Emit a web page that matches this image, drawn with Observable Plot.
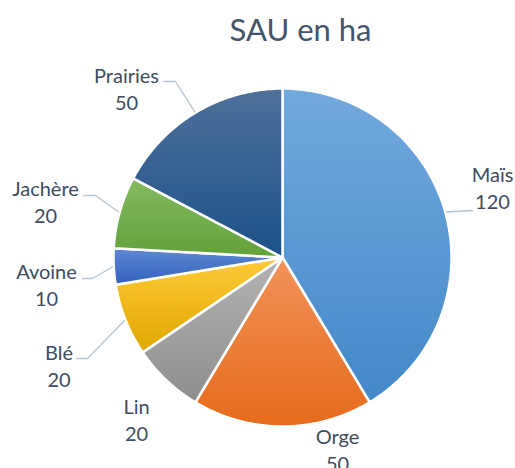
<!DOCTYPE html>
<html><head><meta charset="utf-8">
<script src="https://cdn.jsdelivr.net/npm/d3@7"></script>
<script src="https://cdn.jsdelivr.net/npm/@observablehq/plot@0.6"></script>
<style>html,body{margin:0;padding:0;background:#fff}#chart svg{display:block}</style>
</head><body><div id="chart"></div>
<script>
// ---- data ----
const categories = ["Maïs", "Orge", "Lin", "Blé", "Avoine", "Jachère", "Prairies"];
const values = [120, 50, 20, 20, 10, 20, 50];
const title = "SAU en ha";

// ---- styles ----
const gradTop    = ["#72a9dd", "#f29259", "#b3b3b3", "#ffca38", "#5f88d2", "#84ba60", "#4e709a"];
const gradBottom = ["#4388c9", "#e56b1b", "#8e8e8e", "#dfa700", "#3262bc", "#62a13a", "#1b5189"];

// ---- layout (pixels relative to pie centre, y up) ----
const W = 515, H = 468, CX = 282, CY = 257, R = 169;
const labelLayout = {
  "Maïs":     {at: [210, 49],    leader: [[190, 47]]},
  "Orge":     {at: [55, -213],   leader: null},
  "Lin":      {at: [-146, -183], leader: null},
  "Blé":      {at: [-223.5, -129], leader: [[-206, -101], [-195, -101]]},
  "Avoine":   {at: [-236, -48],  leader: [[-200, -21], [-190, -21]]},
  "Jachère":  {at: [-237, 35],   leader: [[-199, 62], [-187, 62]]},
  "Prairies": {at: [-156, 148],  leader: [[-119, 176], [-107, 176]]}
};

const arcs = d3.pie().sort(null).value(d => d)(values);
const polar = (a, r) => ({x: r * Math.sin(a), y: r * Math.cos(a)});

const marks = [];
arcs.forEach((arc, i) => {
  const pts = [{x: 0, y: 0}];
  const n = Math.max(4, Math.ceil((arc.endAngle - arc.startAngle) / (Math.PI / 180)));
  for (let k = 0; k <= n; k++) {
    pts.push(polar(arc.startAngle + (arc.endAngle - arc.startAngle) * k / n, R));
  }
  pts.push({x: 0, y: 0});
  marks.push(Plot.line(pts, {x: "x", y: "y", fill: `url(#grad${i})`, stroke: "#fff", strokeWidth: 2.5, strokeLinejoin: "round"}));
});

// leaders
arcs.forEach((arc, i) => {
  const lay = labelLayout[categories[i]];
  if (!lay.leader) return;
  const mid = (arc.startAngle + arc.endAngle) / 2;
  const pts = lay.leader.map(([x, y]) => ({x, y}));
  pts.push(polar(mid, R + 1));
  marks.push(Plot.line(pts, {x: "x", y: "y", stroke: "#b8c4d2", strokeWidth: 1.3}));
});

// labels
const labelRows = categories.map((c, i) => ({x: labelLayout[c].at[0], y: labelLayout[c].at[1], text: `${c}\n${values[i]}`}));
marks.push(Plot.text(labelRows, {x: "x", y: "y", text: "text", lineAnchor: "bottom", lineHeight: 1.35, fontSize: 20, fill: "#404c5e", textAnchor: "middle"}));

// title
marks.push(Plot.text([title], {x: () => 300 - CX, y: () => CY - 40, text: d => d, lineAnchor: "bottom", fontSize: 31, fill: "#44546a", textAnchor: "middle"}));

const svg = Plot.plot({
  width: W, height: H, margin: 0,
  style: {fontFamily: "Lato, 'Open Sans', sans-serif", background: "#fff"},
  x: {domain: [-CX, W - CX], axis: null},
  y: {domain: [-(H - CY), CY], axis: null},
  marks
});

// gradients
const ns = "http://www.w3.org/2000/svg";
const defs = document.createElementNS(ns, "defs");
gradTop.forEach((top, i) => {
  const g = document.createElementNS(ns, "linearGradient");
  g.setAttribute("id", `grad${i}`);
  g.setAttribute("x1", "0"); g.setAttribute("y1", "0");
  g.setAttribute("x2", "0"); g.setAttribute("y2", "1");
  [[0, top], [1, gradBottom[i]]].forEach(([o, c]) => {
    const s = document.createElementNS(ns, "stop");
    s.setAttribute("offset", o);
    s.setAttribute("stop-color", c);
    g.appendChild(s);
  });
  defs.appendChild(g);
});
svg.insertBefore(defs, svg.firstChild);
document.getElementById("chart").appendChild(svg);
</script>
</body></html>
